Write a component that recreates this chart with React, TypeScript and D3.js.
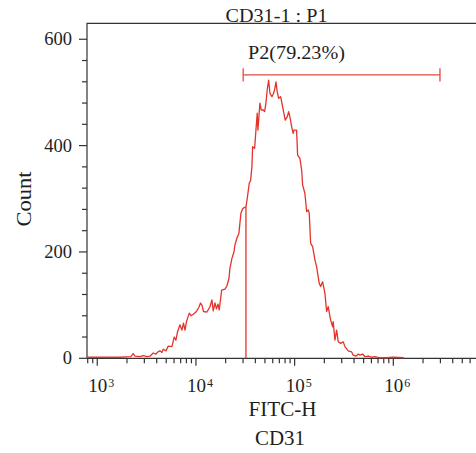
import React from "react";
import * as d3 from "d3";

// FITC-H intensities (histogram channel positions) and event counts
const FITC = [787, 1065, 1700, 2190, 2315, 2410, 2710, 2925, 3190, 3420, 3690, 3935, 4120, 4315, 4525, 4665, 4970, 5240, 5710, 6025, 6270, 6470, 6885, 7210, 7470, 7740, 8020, 8555, 8900, 9390, 10000, 10720, 11110, 11500, 11920, 12920, 13860, 14520, 14970, 15580, 16140, 16720, 17230, 18210, 19660, 20600, 21590, 22090, 23160, 24260, 24830, 26010, 27250, 28560, 29920, 32110, 33120, 34680, 35820, 36920, 37520, 39330, 40530, 41790, 42470, 44470, 45890, 48060, 49650, 51170, 52730, 54530, 56230, 58880, 60720, 62700, 64670, 66650, 68860, 72110, 74340, 76670, 80290, 84100, 86880, 89560, 93890, 96770, 98300, 104700, 107200, 113100, 117800, 120500, 127100, 132300, 137300, 140600, 145300, 152100, 160600, 167100, 177500, 183400, 192100, 202800, 210900, 218900, 231600, 242700, 246100, 255900, 266400, 276700, 292500, 310700, 323400, 349400, 378200, 392600, 418100, 440800, 458800, 488600, 515400, 557000, 602600, 651400, 731700, 855000, 997700, 1280000];
const COUNTS = [2, 2, 2, 3, 9, 4, 3, 5, 3, 4, 10, 8, 12, 14, 11, 17, 14, 23, 22, 40, 34, 48, 63, 53, 66, 53, 69, 85, 80, 83, 87, 96, 104, 100, 88, 87, 97, 110, 89, 104, 93, 102, 91, 128, 130, 136, 150, 169, 188, 200, 213, 226, 235, 273, 282, 285, 301, 329, 335, 360, 398, 395, 429, 461, 429, 480, 467, 467, 464, 480, 505, 523, 498, 492, 497, 505, 520, 501, 489, 492, 480, 467, 448, 454, 464, 454, 433, 423, 429, 429, 382, 376, 354, 326, 310, 276, 279, 273, 216, 210, 185, 172, 141, 135, 144, 122, 88, 97, 72, 59, 69, 34, 53, 31, 28, 31, 22, 14, 12, 6, 4, 8, 6, 8, 3, 4, 2, 3, 1, 1, 2, 1];

const Y_TICKS = [0, 200, 400, 600];
const X_DECADES = [3, 4, 5, 6];
const GATE_RANGE = [30100, 2970000];
const GATE_LEVEL = 533;
const GATE_BOUNDARY = 32110;
const GATE_LABEL = "P2(79.23%)";
const TITLE = "CD31-1 : P1";
const X_TITLE = "FITC-H";
const X_SUBTITLE = "CD31";
const Y_TITLE = "Count";

const FONT = "'Liberation Serif', 'Times New Roman', serif";
const TEXT = "#1e1e1e";
const RED = "#e3342b";
const GATE_RED = "#e24a3e";

export default function App() {
  const left = 87, top = 23.3, bottom = 358.3, right = 492;
  const x = d3.scaleLog().domain([787, 1e7]).range([left, right]);
  const y = d3.scaleLinear().domain([0, 630]).range([bottom, top]);

  const pts = FITC.map((f, i) => [f, COUNTS[i]] as [number, number]);
  const line = d3
    .line<[number, number]>()
    .x((d) => x(d[0]))
    .y((d) => y(d[1]));

  const minorY = d3.range(0, 631, 40).filter((v) => !Y_TICKS.includes(v));
  const minorX: number[] = [];
  for (let e = 2; e <= 6; e++) {
    for (let k = 2; k <= 9; k++) {
      const v = k * Math.pow(10, e);
      if (v >= 787 && v <= 1e7) minorX.push(v);
    }
  }

  // curve value at gate boundary
  const bi = d3.bisector((d: [number, number]) => d[0]).left(pts, GATE_BOUNDARY);
  let bCount = pts[Math.min(bi, pts.length - 1)][1];
  if (bi > 0 && bi < pts.length && pts[bi][0] !== GATE_BOUNDARY) {
    const a = pts[bi - 1], b = pts[bi];
    const t = (Math.log(GATE_BOUNDARY) - Math.log(a[0])) / (Math.log(b[0]) - Math.log(a[0]));
    bCount = a[1] + t * (b[1] - a[1]);
  }

  const gx1 = x(GATE_RANGE[0]);
  const gx2 = x(GATE_RANGE[1]);
  const gy = y(GATE_LEVEL);

  return (
    <svg
      width={476}
      height={453}
      style={{ position: "absolute", left: 0, top: 0, background: "#fff" }}
    >
      <rect x={0} y={0} width={476} height={453} fill="#fff" />
      {/* frame */}
      <path
        d={`M${left},${bottom}V${top}H${right + 10}`}
        fill="none"
        stroke="#333"
        strokeWidth={1.2}
      />
      <line x1={left} x2={right + 10} y1={bottom} y2={bottom} stroke="#333" strokeWidth={1.2} />

      {/* y ticks */}
      {Y_TICKS.map((v) => (
        <g key={"y" + v}>
          <line x1={left - 8} x2={left} y1={y(v)} y2={y(v)} stroke="#333" strokeWidth={1.2} />
          <text
            x={72}
            y={y(v) + 6}
            textAnchor="end"
            fontFamily={FONT}
            fontSize={18.5}
            fill={TEXT}
          >
            {v}
          </text>
        </g>
      ))}
      {minorY.map((v) => (
        <line key={"my" + v} x1={left - 5} x2={left} y1={y(v)} y2={y(v)} stroke="#333" strokeWidth={1.2} />
      ))}

      {/* x ticks */}
      {X_DECADES.map((e) => {
        const px = x(Math.pow(10, e));
        return (
          <g key={"x" + e}>
            <line x1={px} x2={px} y1={bottom} y2={bottom + 7.5} stroke="#333" strokeWidth={1.2} />
            <text x={px + 0.5} y={391.7} textAnchor="middle" fontFamily={FONT} fontSize={19} fill={TEXT}>
              10
            </text>
            <text x={px + 11} y={386.5} textAnchor="start" fontFamily={FONT} fontSize={12} fill={TEXT}>
              {e}
            </text>
          </g>
        );
      })}
      {minorX.map((v) => (
        <line key={"mx" + v} x1={x(v)} x2={x(v)} y1={bottom} y2={bottom + 5} stroke="#333" strokeWidth={1.2} />
      ))}

      {/* histogram */}
      <path d={line(pts) || ""} fill="none" stroke={RED} strokeWidth={1.3} strokeLinejoin="round" />
      {/* gate boundary */}
      <line
        x1={x(GATE_BOUNDARY)}
        x2={x(GATE_BOUNDARY)}
        y1={y(0)}
        y2={y(bCount)}
        stroke={RED}
        strokeWidth={1.3}
      />

      {/* gate marker */}
      <line x1={gx1} x2={gx2} y1={gy} y2={gy} stroke={GATE_RED} strokeWidth={1.3} />
      <line x1={gx1} x2={gx1} y1={gy - 6.7} y2={gy + 6.7} stroke={GATE_RED} strokeWidth={1.3} />
      <line x1={gx2} x2={gx2} y1={gy - 6.7} y2={gy + 6.7} stroke={GATE_RED} strokeWidth={1.3} />
      <text x={248} y={59.3} fontFamily={FONT} fontSize={19.5} fill={TEXT} textLength={97} lengthAdjust="spacingAndGlyphs">
        {GATE_LABEL}
      </text>

      {/* titles */}
      <text x={276.5} y={21.7} textAnchor="middle" fontFamily={FONT} fontSize={19.5} fill={TEXT} textLength={102} lengthAdjust="spacingAndGlyphs">
        {TITLE}
      </text>
      <text x={282.5} y={416} textAnchor="middle" fontFamily={FONT} fontSize={21} fill={TEXT} textLength={68} lengthAdjust="spacingAndGlyphs">
        {X_TITLE}
      </text>
      <text x={280} y={445} textAnchor="middle" fontFamily={FONT} fontSize={21} fill={TEXT} textLength={50} lengthAdjust="spacingAndGlyphs">
        {X_SUBTITLE}
      </text>
      <text
        transform={`translate(31,199) rotate(-90)`}
        textAnchor="middle"
        fontFamily={FONT}
        fontSize={22}
        fill={TEXT}
        textLength={55}
        lengthAdjust="spacingAndGlyphs"
      >
        {Y_TITLE}
      </text>
    </svg>
  );
}
